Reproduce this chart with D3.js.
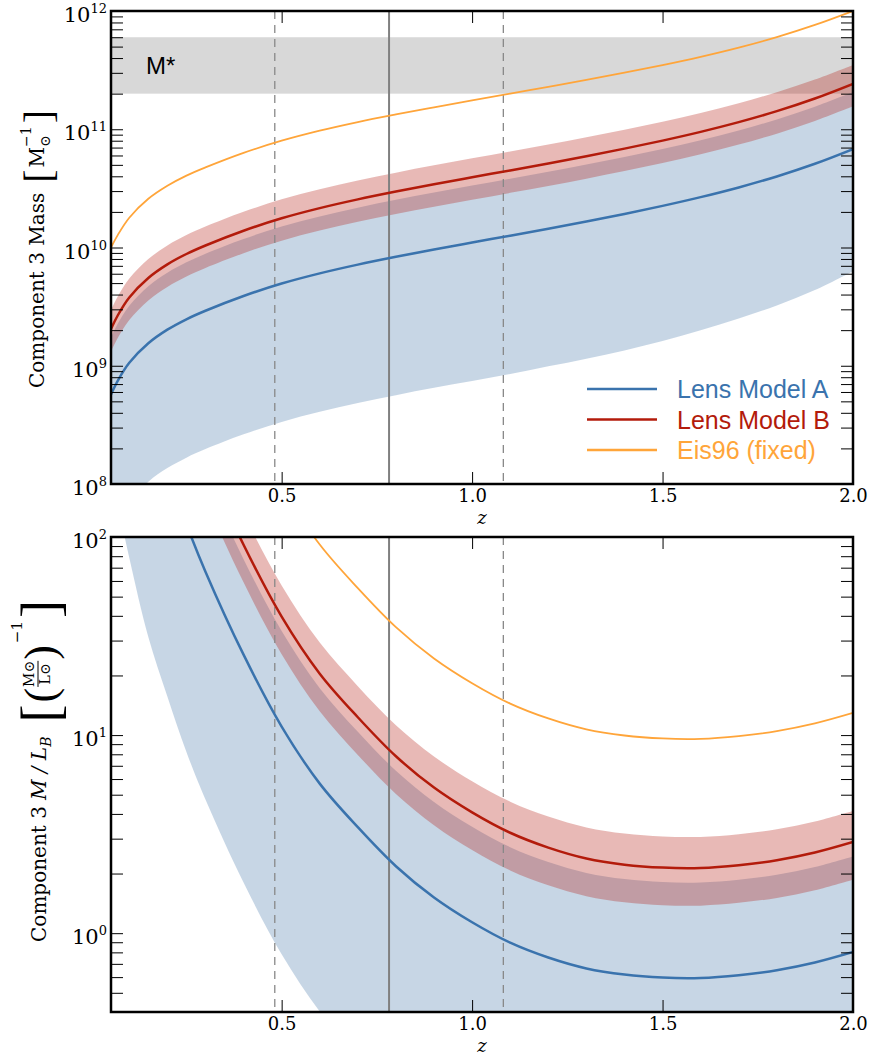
<!DOCTYPE html>
<html>
<head>
<meta charset="utf-8">
<script src="https://cdn.jsdelivr.net/npm/d3@7"></script>
<style>
body { margin: 0; background: #fff; }
svg { display: block; }
.tick-label { font-family: 'DejaVu Serif', serif; font-size: 18px; fill: #000; }
.axis-label { font-family: 'DejaVu Serif', serif; fill: #000; }
.legend-text { font-family: 'Liberation Sans', Arial, sans-serif; font-size: 25px; }
</style>
</head>
<body>
<svg id="chart"></svg>
<script>
var width = 872;
var height = 1056;
var plotLeft = 111;
var plotRight = 853;
var topPanel = {top: 11, bottom: 484, zLabelOffset: 40};
var bottomPanel = {top: 537, bottom: 1012, zLabelOffset: 39.5};

// redshift grid shared by every curve
var zValues = [0.052, 0.07, 0.1, 0.15, 0.2, 0.25, 0.3, 0.4, 0.5, 0.6, 0.7, 0.8, 0.9, 1.0, 1.1, 1.2, 1.3, 1.4, 1.5, 1.6, 1.7, 1.8, 1.9, 2.0];

// upper panel, log10 of component 3 mass
var massB = [9.31, 9.427, 9.577, 9.742, 9.857, 9.945, 10.017, 10.142, 10.247, 10.333, 10.407, 10.473, 10.535, 10.594, 10.652, 10.711, 10.772, 10.836, 10.904, 10.978, 11.06, 11.153, 11.26, 11.384];
var massBHigh = [9.47, 9.587, 9.737, 9.902, 10.017, 10.105, 10.177, 10.302, 10.407, 10.493, 10.567, 10.633, 10.695, 10.754, 10.812, 10.871, 10.932, 10.996, 11.064, 11.138, 11.22, 11.313, 11.42, 11.544];
var massBLow = [9.12, 9.237, 9.387, 9.552, 9.667, 9.755, 9.827, 9.952, 10.057, 10.143, 10.217, 10.283, 10.345, 10.404, 10.462, 10.521, 10.582, 10.646, 10.714, 10.788, 10.87, 10.963, 11.07, 11.194];
var massA = [8.758, 8.875, 9.025, 9.19, 9.305, 9.393, 9.465, 9.59, 9.695, 9.781, 9.855, 9.921, 9.983, 10.042, 10.1, 10.159, 10.22, 10.284, 10.352, 10.426, 10.508, 10.601, 10.708, 10.832];
var massAHigh = [9.24, 9.357, 9.507, 9.672, 9.787, 9.875, 9.947, 10.072, 10.177, 10.263, 10.337, 10.403, 10.465, 10.524, 10.582, 10.641, 10.702, 10.766, 10.834, 10.908, 10.99, 11.083, 11.19, 11.314];
var massALow = [7.59, 7.705, 7.855, 8.02, 8.135, 8.223, 8.295, 8.42, 8.525, 8.611, 8.685, 8.751, 8.813, 8.87, 8.93, 8.995, 9.06, 9.13, 9.21, 9.30, 9.40, 9.51, 9.64, 9.8];
var massEis = [10.0, 10.107, 10.252, 10.412, 10.522, 10.608, 10.677, 10.8, 10.903, 10.988, 11.061, 11.125, 11.185, 11.244, 11.302, 11.359, 11.417, 11.478, 11.542, 11.612, 11.69, 11.779, 11.882, 12.0];

// lower panel, log10 of component 3 M/L_B
var mlB = [4.05, 3.87, 3.60, 3.20, 2.90, 2.62, 2.38, 1.961, 1.598, 1.31, 1.09, 0.893, 0.735, 0.61, 0.507, 0.432, 0.377, 0.346, 0.331, 0.329, 0.343, 0.368, 0.407, 0.46];
var mlBHigh = [4.207, 4.027, 3.757, 3.357, 3.057, 2.777, 2.537, 2.118, 1.755, 1.467, 1.247, 1.05, 0.892, 0.767, 0.664, 0.589, 0.534, 0.503, 0.488, 0.486, 0.50, 0.525, 0.564, 0.617];
var mlBLow = [3.86, 3.68, 3.41, 3.01, 2.71, 2.43, 2.19, 1.771, 1.408, 1.12, 0.90, 0.703, 0.545, 0.42, 0.317, 0.242, 0.187, 0.156, 0.141, 0.139, 0.153, 0.178, 0.217, 0.27];
var mlA = [3.495, 3.315, 3.045, 2.645, 2.345, 2.065, 1.825, 1.406, 1.043, 0.755, 0.535, 0.338, 0.18, 0.055, -0.048, -0.123, -0.178, -0.209, -0.224, -0.226, -0.212, -0.187, -0.148, -0.095];
var mlAHigh = [3.977, 3.797, 3.527, 3.127, 2.827, 2.547, 2.307, 1.888, 1.525, 1.237, 1.017, 0.82, 0.662, 0.537, 0.434, 0.359, 0.304, 0.273, 0.258, 0.256, 0.27, 0.295, 0.334, 0.387];
var mlALow = [2.345, 2.165, 1.895, 1.495, 1.195, 0.915, 0.675, 0.256, -0.107, -0.395, -0.615, -0.812, -0.97, -1.095, -1.198, -1.273, -1.328, -1.359, -1.374, -1.376, -1.362, -1.337, -1.298, -1.245];
var mlEis = [4.702, 4.522, 4.252, 3.852, 3.552, 3.272, 3.032, 2.613, 2.25, 1.962, 1.742, 1.545, 1.387, 1.262, 1.159, 1.084, 1.029, 0.998, 0.983, 0.981, 0.995, 1.02, 1.059, 1.112];

var zDashed = [0.482, 1.082];
var zSolid = [0.782];
var mStarBand = [2e11, 6e11];
var xTicks = [0.5, 1.0, 1.5, 2.0];
var legendNames = ['Lens Model A', 'Lens Model B', 'Eis96 (fixed)'];
var legendColors = ['#3a73ad', '#b31b0b', '#ffa53a'];

var blueLine = '#3a73ad';
var redLine = '#b31b0b';
var orangeLine = '#ffa53a';
var blueFill = '#4477aa';
var redFill = '#b2180e';

var svg = d3.select('#chart').attr('width', width).attr('height', height);

var x = d3.scaleLinear().domain([0.052, 2.0]).range([plotLeft, plotRight]);

var pts = function(vals) {
  return zValues.map(function(z, i) { return {z: z, v: Math.pow(10, vals[i])}; });
};
var bandPts = function(lo, hi) {
  return zValues.map(function(z, i) { return {z: z, lo: Math.pow(10, lo[i]), hi: Math.pow(10, hi[i])}; });
};

var drawPanel = function(panel, y, id, cfg) {
  var g = svg.append('g');
  svg.append('clipPath').attr('id', id)
    .append('rect')
    .attr('x', plotLeft).attr('y', panel.top)
    .attr('width', plotRight - plotLeft).attr('height', panel.bottom - panel.top);
  var plot = g.append('g').attr('clip-path', 'url(#' + id + ')');

  if (cfg.grayBand) {
    plot.append('rect')
      .attr('x', plotLeft).attr('width', plotRight - plotLeft)
      .attr('y', y(cfg.grayBand[1]))
      .attr('height', y(cfg.grayBand[0]) - y(cfg.grayBand[1]))
      .attr('fill', '#d8d8d8');
  }

  var area = d3.area()
    .x(function(d) { return x(d.z); })
    .y0(function(d) { return y(d.lo); })
    .y1(function(d) { return y(d.hi); })
    .curve(d3.curveCatmullRom);
  plot.append('path').datum(bandPts(cfg.aLow, cfg.aHigh))
    .attr('d', area).attr('fill', blueFill).attr('fill-opacity', 0.3);
  plot.append('path').datum(bandPts(cfg.bLow, cfg.bHigh))
    .attr('d', area).attr('fill', redFill).attr('fill-opacity', 0.3);

  plot.selectAll('.vdash').data(zDashed).enter().append('line')
    .attr('x1', x).attr('x2', x)
    .attr('y1', panel.top).attr('y2', panel.bottom)
    .attr('stroke', '#888').attr('stroke-width', 1.3)
    .attr('stroke-dasharray', '8,6');
  plot.selectAll('.vsolid').data(zSolid).enter().append('line')
    .attr('x1', x).attr('x2', x)
    .attr('y1', panel.top).attr('y2', panel.bottom)
    .attr('stroke', '#808080').attr('stroke-width', 2);

  var line = d3.line()
    .x(function(d) { return x(d.z); })
    .y(function(d) { return y(d.v); })
    .curve(d3.curveCatmullRom);
  plot.append('path').datum(pts(cfg.eis))
    .attr('d', line).attr('fill', 'none').attr('stroke', orangeLine).attr('stroke-width', 1.8);
  plot.append('path').datum(pts(cfg.a))
    .attr('d', line).attr('fill', 'none').attr('stroke', blueLine).attr('stroke-width', 2.5);
  plot.append('path').datum(pts(cfg.b))
    .attr('d', line).attr('fill', 'none').attr('stroke', redLine).attr('stroke-width', 2.5);

  // axes: all ticks point inward
  var yTicks = cfg.major.concat(cfg.minor);
  g.append('g').attr('transform', 'translate(' + plotLeft + ',0)')
    .call(d3.axisLeft(y).tickValues(yTicks).tickSizeInner(-12).tickSizeOuter(0).tickFormat(''));
  g.append('g').attr('transform', 'translate(' + plotRight + ',0)')
    .call(d3.axisRight(y).tickValues(yTicks).tickSizeInner(-12).tickSizeOuter(0).tickFormat(''));
  g.append('g').attr('transform', 'translate(0,' + panel.top + ')')
    .call(d3.axisTop(x).tickValues(xTicks).tickSizeInner(-12).tickSizeOuter(0).tickFormat(''));
  var xAxis = g.append('g').attr('transform', 'translate(0,' + panel.bottom + ')')
    .call(d3.axisBottom(x).tickValues(xTicks).tickSizeInner(-12).tickSizeOuter(0)
      .tickPadding(5.5).tickFormat(d3.format('.1f')));
  xAxis.selectAll('text').classed('tick-label', true).attr('fill', null)
    .style('font-family', "'DejaVu Serif', serif").style('font-size', '18px');
  g.selectAll('.domain').remove();
  g.selectAll('.tick line').attr('stroke', '#000').attr('stroke-width', 1);

  var labels = g.selectAll('.ylab').data(cfg.major).enter().append('text')
    .classed('tick-label', true)
    .attr('x', plotLeft - 4)
    .attr('y', function(d) { return y(d) + 11; })
    .style('text-anchor', 'end');
  labels.append('tspan').text('10').style('font-size', '21px');
  labels.append('tspan').text(function(d) { return Math.round(Math.log10(d)); })
    .attr('dy', -9).style('font-size', '13px');

  g.append('text').classed('axis-label', true)
    .attr('x', 482)
    .attr('y', panel.bottom + panel.zLabelOffset)
    .style('text-anchor', 'middle')
    .style('font-style', 'italic')
    .style('font-size', '18px')
    .text('z');

  g.append('rect')
    .attr('x', plotLeft).attr('y', panel.top)
    .attr('width', plotRight - plotLeft).attr('height', panel.bottom - panel.top)
    .attr('fill', 'none').attr('stroke', '#000').attr('stroke-width', 2.5);
  return g;
};

var decadeMinors = function(lo, hi) {
  var out = [];
  d3.range(lo, hi).forEach(function(e) {
    d3.range(2, 10).forEach(function(k) { out.push(k * Math.pow(10, e)); });
  });
  return out;
};

var yTop = d3.scaleLog().domain([1e8, 1e12]).range([topPanel.bottom, topPanel.top]);
drawPanel(topPanel, yTop, 'clip-top', {
  grayBand: mStarBand,
  a: massA, aLow: massALow, aHigh: massAHigh,
  b: massB, bLow: massBLow, bHigh: massBHigh,
  eis: massEis,
  major: [1e8, 1e9, 1e10, 1e11, 1e12],
  minor: decadeMinors(8, 12)
});

var yBottom = d3.scaleLog().domain([0.4, 100]).range([bottomPanel.bottom, bottomPanel.top]);
drawPanel(bottomPanel, yBottom, 'clip-bottom', {
  a: mlA, aLow: mlALow, aHigh: mlAHigh,
  b: mlB, bLow: mlBLow, bHigh: mlBHigh,
  eis: mlEis,
  major: [1, 10, 100],
  minor: [0.4, 0.5, 0.6, 0.7, 0.8, 0.9].concat(decadeMinors(0, 2))
});

// M* label
svg.append('text')
  .attr('x', 146).attr('y', 74)
  .style('font-family', "'Liberation Sans', Arial, sans-serif")
  .style('font-size', '24px')
  .text('M*');

// legend
var legend = svg.append('g');
legendNames.forEach(function(name, i) {
  var ly = 389 + i * 30.5;
  legend.append('line')
    .attr('x1', 587).attr('x2', 657).attr('y1', ly).attr('y2', ly)
    .attr('stroke', legendColors[i]).attr('stroke-width', 2.5);
  legend.append('text').classed('legend-text', true)
    .attr('x', 677).attr('y', ly + 9)
    .attr('fill', legendColors[i])
    .text(name);
});

// rotated y labels built piece by piece
var rotatedLabel = function(cx, cy, pieces) {
  var g = svg.append('g').attr('transform', 'translate(' + cx + ',' + cy + ') rotate(-90)');
  var inner = g.append('g');
  var cursor = 0;
  pieces.forEach(function(p) {
    if (p.frac) {
      var num = inner.append('text').classed('axis-label', true)
        .attr('y', p.numY).style('font-size', p.size + 'px').text(p.frac[0]);
      var den = inner.append('text').classed('axis-label', true)
        .attr('y', p.denY).style('font-size', p.size + 'px').text(p.frac[1]);
      var wn = num.node().getComputedTextLength();
      var wd = den.node().getComputedTextLength();
      var w = Math.max(wn, wd);
      num.attr('x', cursor + (w - wn) / 2);
      den.attr('x', cursor + (w - wd) / 2);
      inner.append('line')
        .attr('x1', cursor).attr('x2', cursor + w)
        .attr('y1', p.lineY).attr('y2', p.lineY)
        .attr('stroke', '#000').attr('stroke-width', 1);
      cursor += w + (p.gap || 0);
      return;
    }
    var t = inner.append('text').classed('axis-label', true)
      .attr('x', cursor + (p.dx || 0))
      .attr('y', p.y || 0)
      .style('font-size', p.size + 'px')
      .style('font-style', p.italic ? 'italic' : 'normal')
      .text(p.text);
    if (p.thin) {
      t.style('font-family', "'Liberation Serif', serif");
    }
    var tw = t.node().getComputedTextLength();
    if (!p.overlay) {
      cursor += tw + (p.gap || 0) + (p.dx || 0);
    }
  });
  inner.attr('transform', 'translate(' + (-cursor / 2) + ',0)');
};

rotatedLabel(44, 249, [
  {text: 'Component 3 Mass', size: 20, gap: 10},
  {text: '[', size: 40, y: 8, thin: true, gap: 2},
  {text: 'M', size: 20, gap: 0},
  {text: '\u2299', size: 14, y: 6, overlay: true},
  {text: '\u22121', size: 14, y: -13, gap: 3},
  {text: ']', size: 40, y: 8, thin: true}
]);

rotatedLabel(46, 771, [
  {text: 'Component 3 ', size: 20, gap: 6},
  {text: 'M / L', size: 20, italic: true, gap: 0},
  {text: 'B', size: 14, italic: true, y: 5, gap: 14},
  {text: '[', size: 54, y: 13, thin: true, gap: 2},
  {text: '(', size: 44, y: 9, thin: true, gap: 1},
  {frac: ['M\u2299', 'L\u2299'], size: 14, numY: -12, denY: 4, lineY: -8, gap: 1},
  {text: ')', size: 44, y: 9, thin: true, gap: 2},
  {text: '\u22121', size: 15, y: -24, gap: 3},
  {text: ']', size: 54, y: 13, thin: true}
]);
</script>
</body>
</html>
